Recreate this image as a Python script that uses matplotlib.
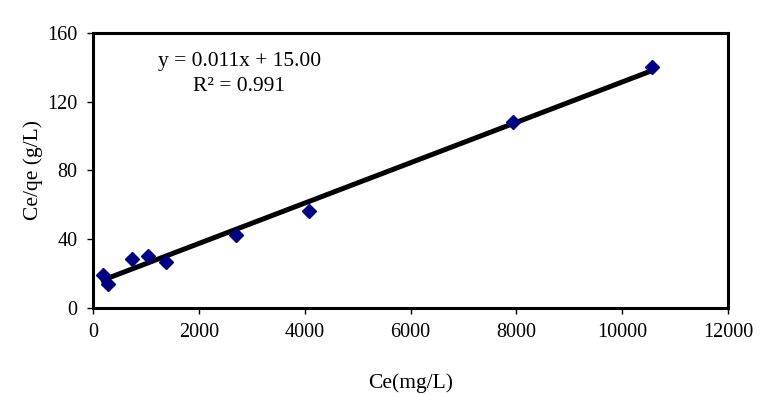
import numpy as np
import matplotlib
matplotlib.use("Agg")
import matplotlib.pyplot as plt

plt.rcParams['font.family'] = ['Liberation Serif', 'DejaVu Serif']

# data
ce = [190, 280, 740, 1040, 1380, 2700, 4080, 7940, 10570]
ce_qe = [19.2, 14.0, 28.5, 30.3, 26.8, 42.5, 56.4, 108.2, 140.2]
x_ticks = [0, 2000, 4000, 6000, 8000, 10000, 12000]
y_ticks = [0, 40, 80, 120, 160]

ce = np.array(ce)
ce_qe = np.array(ce_qe)

# linear trendline
k, b = np.polyfit(ce, ce_qe, 1)
xf = np.array([ce.min(), ce.max()])

fig = plt.figure(figsize=(7.83, 3.96), dpi=100)
ax = fig.add_axes([0.1188, 0.2222, 0.811, 0.6945])

ax.plot(xf, k * xf + b, color="black", lw=3.6, zorder=2)
ax.plot(ce, ce_qe, "D", color="#000080", ms=7.5, zorder=3)

ax.set_xlim(0, 12000)
ax.set_ylim(0, 160)
ax.set_xticks(x_ticks)
ax.set_yticks(y_ticks)
ax.tick_params(direction="out", length=4, width=1, labelsize=14.5, pad=7)
for s in ax.spines.values():
    s.set_linewidth(2.2)

ax.text(0.23, 0.895, "y = 0.011x + 15.00", transform=ax.transAxes,
        ha="center", va="center", fontsize=15.5)
ax.text(0.23, 0.807, "R² = 0.991", transform=ax.transAxes,
        ha="center", va="center", fontsize=15.5)

ax.set_xlabel("Ce(mg/L)", fontsize=15.5, labelpad=22)
ax.set_ylabel("Ce/qe (g/L)", fontsize=15.5, labelpad=3)

fig.savefig("out.png", dpi=100)
